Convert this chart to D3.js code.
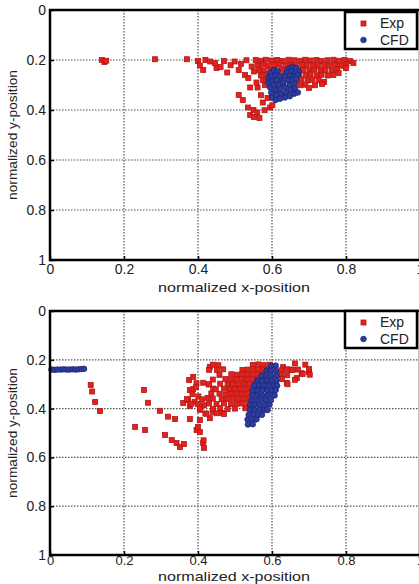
<!DOCTYPE html>
<html>
<head>
<meta charset="utf-8">
<script src="https://cdn.jsdelivr.net/npm/d3@7"></script>
<style>
  body { margin: 0; background: #fff; }
  svg { display: block; font-family: "Liberation Sans", Arial, sans-serif; }
</style>
</head>
<body>
<svg id="chart" width="419" height="584"></svg>
<script>
// axis ticks + labels
const xTicks = [0, 0.2, 0.4, 0.6, 0.8, 1];
const yTicks = [0, 0.2, 0.4, 0.6, 0.8, 1];
const xLabel = "normalized x-position";
const yLabel = "normalized y-position";
const legendLabels = ["Exp", "CFD"];

// top panel, experiment points [x, y]
const topExp = [
  [0.140,0.200],[0.147,0.208],[0.152,0.203],
  [0.284,0.197],[0.370,0.197],
  [0.400,0.204],[0.405,0.222],[0.414,0.240],
  [0.420,0.200],[0.433,0.206],[0.446,0.212],[0.450,0.232],[0.461,0.228],[0.470,0.204],[0.479,0.250],[0.488,0.221],
  [0.499,0.206],[0.510,0.240],[0.516,0.216],[0.527,0.260],[0.531,0.201],[0.536,0.272],[0.541,0.310],[0.545,0.226],[0.551,0.246],
  [0.510,0.340],[0.521,0.360],[0.535,0.390],[0.550,0.400],[0.541,0.420],[0.560,0.410],[0.580,0.401],[0.595,0.390],
  [0.570,0.341],[0.561,0.310],[0.558,0.290],[0.575,0.370],[0.588,0.352],[0.601,0.381],[0.566,0.432],[0.551,0.428],
  [0.556,0.200],[0.571,0.203],[0.584,0.199],[0.600,0.202],[0.614,0.200],[0.629,0.204],[0.645,0.199],[0.660,0.201],
  [0.676,0.203],[0.690,0.199],[0.704,0.202],[0.720,0.200],[0.734,0.204],[0.750,0.201],[0.766,0.199],[0.781,0.203],
  [0.796,0.200],[0.811,0.204],
  [0.561,0.222],[0.575,0.219],[0.590,0.223],[0.606,0.221],[0.619,0.218],[0.636,0.222],[0.650,0.220],[0.664,0.223],
  [0.681,0.219],[0.694,0.222],[0.711,0.220],[0.724,0.223],[0.741,0.219],[0.754,0.222],[0.770,0.220],[0.786,0.223],[0.801,0.218],
  [0.566,0.241],[0.579,0.244],[0.596,0.240],[0.609,0.243],[0.626,0.239],[0.640,0.242],[0.654,0.241],[0.671,0.244],
  [0.684,0.240],[0.701,0.243],[0.714,0.239],[0.731,0.242],[0.744,0.240],[0.761,0.243],[0.776,0.238],
  [0.570,0.262],[0.586,0.259],[0.601,0.263],[0.614,0.260],[0.631,0.262],[0.644,0.258],[0.661,0.263],[0.674,0.260],
  [0.691,0.261],[0.704,0.258],[0.721,0.262],[0.734,0.259],[0.751,0.262],[0.766,0.260],
  [0.576,0.281],[0.591,0.279],[0.621,0.283],[0.649,0.280],[0.666,0.282],[0.679,0.278],[0.696,0.282],[0.709,0.279],
  [0.726,0.281],[0.741,0.288],
  [0.581,0.300],[0.631,0.302],[0.659,0.298],[0.676,0.301],[0.690,0.299],[0.716,0.301],
  [0.619,0.318],[0.651,0.321],[0.700,0.312],[0.735,0.296],
  [0.780,0.252],[0.800,0.232],[0.820,0.212]
];

// top panel, CFD points
const topCfd = [
  [0.595,0.250],[0.605,0.240],[0.615,0.245],[0.590,0.270],[0.600,0.265],[0.610,0.260],[0.620,0.265],
  [0.590,0.290],[0.600,0.285],[0.612,0.280],[0.625,0.285],
  [0.645,0.235],[0.655,0.228],[0.665,0.232],[0.672,0.245],[0.640,0.250],[0.652,0.245],[0.664,0.250],
  [0.635,0.265],[0.648,0.262],[0.660,0.265],[0.670,0.260],
  [0.595,0.310],[0.605,0.300],[0.618,0.300],[0.630,0.290],[0.642,0.280],[0.655,0.280],[0.665,0.275],
  [0.598,0.330],[0.610,0.320],[0.622,0.315],[0.635,0.310],[0.648,0.300],[0.660,0.295],
  [0.600,0.350],[0.612,0.340],[0.625,0.335],[0.638,0.330],[0.650,0.320],[0.662,0.315],
  [0.610,0.360],[0.622,0.355],[0.635,0.350],[0.648,0.345],[0.660,0.335],[0.670,0.330]
];

// bottom panel, experiment points
const bottomExp = [
  [0.110,0.303],[0.114,0.330],[0.122,0.373],[0.135,0.410],
  [0.254,0.324],[0.265,0.376],[0.230,0.475],[0.257,0.488],
  [0.297,0.409],[0.319,0.433],[0.338,0.443],[0.311,0.508],[0.329,0.529],[0.342,0.541],[0.351,0.557],[0.362,0.545],
  [0.378,0.443],[0.360,0.377],[0.373,0.365],[0.378,0.324],[0.376,0.283],[0.387,0.270],
  [0.396,0.488],[0.405,0.496],[0.414,0.541],[0.416,0.561],[0.405,0.447],[0.420,0.420],[0.432,0.439],[0.440,0.414],[0.465,0.418],
  [0.432,0.229],[0.451,0.242],[0.396,0.296],[0.387,0.320],[0.378,0.390],[0.405,0.405],[0.400,0.475],[0.415,0.530],
  [0.395,0.312],[0.401,0.350],[0.411,0.362],[0.426,0.356],[0.436,0.338],[0.441,0.318],[0.429,0.301],[0.414,0.294],
  [0.391,0.372],[0.416,0.386],
  [0.662,0.215],[0.690,0.220],[0.700,0.250],[0.680,0.255],[0.650,0.240],[0.630,0.230],[0.667,0.275],[0.640,0.295],
  [0.440,0.220],[0.455,0.222],[0.548,0.221],[0.563,0.219],[0.578,0.222],[0.594,0.220],
  [0.430,0.241],[0.468,0.239],[0.520,0.242],[0.534,0.240],[0.549,0.238],[0.563,0.242],[0.577,0.240],[0.592,0.241],
  [0.625,0.243],[0.640,0.239],[0.655,0.242],[0.670,0.240],[0.700,0.238],
  [0.458,0.262],[0.490,0.259],[0.505,0.261],[0.520,0.258],[0.534,0.262],[0.548,0.260],[0.563,0.259],[0.577,0.262],
  [0.625,0.260],[0.641,0.263],[0.683,0.258],[0.702,0.261],
  [0.440,0.281],[0.474,0.279],[0.489,0.282],[0.504,0.280],[0.519,0.278],[0.533,0.281],[0.548,0.279],[0.562,0.282],
  [0.577,0.280],[0.627,0.279],[0.662,0.282],
  [0.430,0.300],[0.460,0.298],[0.480,0.301],[0.494,0.299],[0.509,0.302],[0.524,0.300],[0.539,0.298],[0.553,0.301],
  [0.568,0.299],[0.583,0.302],[0.642,0.300],
  [0.448,0.321],[0.470,0.318],[0.485,0.322],[0.499,0.320],[0.514,0.319],[0.529,0.321],[0.544,0.318],[0.559,0.322],[0.574,0.320],
  [0.385,0.341],[0.458,0.339],[0.474,0.342],[0.489,0.340],[0.504,0.338],[0.519,0.341],[0.534,0.339],[0.549,0.342],
  [0.370,0.361],[0.440,0.359],[0.464,0.362],[0.479,0.360],[0.494,0.358],[0.509,0.361],[0.524,0.359],[0.539,0.362],
  [0.382,0.380],[0.400,0.382],[0.430,0.379],[0.450,0.381],[0.470,0.378],[0.489,0.382],[0.505,0.380],[0.520,0.379],[0.536,0.381],
  [0.406,0.400],[0.440,0.401],[0.460,0.398],[0.480,0.402],[0.500,0.400],[0.528,0.399],[0.548,0.401],
  [0.423,0.421],[0.450,0.419],[0.470,0.422]
];

// bottom panel, CFD points (incl. the short row along the left edge)
const bottomCfd = [
  [0.004,0.240],[0.012,0.241],[0.020,0.240],[0.029,0.240],[0.037,0.239],[0.045,0.240],[0.053,0.240],
  [0.061,0.239],[0.069,0.240],[0.077,0.239],[0.085,0.238],[0.092,0.237],
  [0.598,0.225],[0.610,0.224],
  [0.585,0.245],[0.598,0.244],[0.611,0.246],
  [0.572,0.265],[0.585,0.264],[0.598,0.266],[0.612,0.265],
  [0.560,0.285],[0.573,0.286],[0.586,0.284],[0.599,0.285],[0.612,0.286],
  [0.552,0.305],[0.565,0.304],[0.578,0.306],[0.591,0.305],[0.604,0.304],[0.614,0.306],
  [0.548,0.325],[0.561,0.326],[0.574,0.324],[0.587,0.325],[0.600,0.326],[0.610,0.324],
  [0.547,0.345],[0.560,0.344],[0.573,0.346],[0.586,0.345],[0.598,0.344],[0.607,0.346],
  [0.545,0.365],[0.558,0.366],[0.571,0.364],[0.584,0.365],[0.597,0.366],
  [0.541,0.385],[0.554,0.384],[0.567,0.386],[0.580,0.385],[0.593,0.384],
  [0.540,0.405],[0.553,0.406],[0.566,0.404],[0.579,0.405],[0.588,0.406],
  [0.537,0.425],[0.550,0.424],[0.563,0.426],[0.573,0.425],
  [0.534,0.445],[0.547,0.446],[0.558,0.444],
  [0.535,0.465],[0.548,0.464]
];

const W = 419, H = 584;
const svg = d3.select("#chart").attr("viewBox", [0, 0, W, H]);

const panels = [
  { exp: topExp, cfd: topCfd, top: 10, bottom: 260, pad: 4, tickFont: 14, labelY: 292, legendTop: 12 },
  { exp: bottomExp, cfd: bottomCfd, top: 311, bottom: 555, pad: 1, tickFont: 13, labelY: 581, legendTop: 311 }
];

const left = 50, right = 420;
const expFill = "#e3231b", expStroke = "#b3161a";
const cfdFill = "#2d3d9e", cfdStroke = "#1c2478";

panels.forEach(p => {
  const x = d3.scaleLinear().domain([0, 1]).range([left, right]);
  const y = d3.scaleLinear().domain([0, 1]).range([p.top, p.bottom]);
  const g = svg.append("g");

  // dotted grid
  g.append("g").selectAll("line").data(xTicks.slice(1, -1)).join("line")
    .attr("x1", d => x(d)).attr("x2", d => x(d))
    .attr("y1", p.top).attr("y2", p.bottom)
    .attr("stroke", "#555").attr("stroke-width", 1.2).attr("stroke-dasharray", "1.5,1.5");
  g.append("g").selectAll("line").data(yTicks.slice(1, -1)).join("line")
    .attr("y1", d => y(d)).attr("y2", d => y(d))
    .attr("x1", left).attr("x2", right)
    .attr("stroke", "#555").attr("stroke-width", 1.2).attr("stroke-dasharray", "1.5,1.5");

  // Exp squares
  g.append("g").selectAll("rect").data(p.exp).join("rect")
    .attr("x", d => x(d[0]) - 2.5).attr("y", d => y(d[1]) - 2.5)
    .attr("width", 5).attr("height", 5)
    .attr("fill", expFill).attr("stroke", expStroke).attr("stroke-width", 0.8);

  // CFD circles
  g.append("g").selectAll("circle").data(p.cfd).join("circle")
    .attr("cx", d => x(d[0])).attr("cy", d => y(d[1])).attr("r", 2.8)
    .attr("fill", cfdFill).attr("stroke", cfdStroke).attr("stroke-width", 0.8);

  // axes (ticks point inward, like matlab)
  const yAxis = g.append("g")
    .attr("transform", `translate(${left},0)`)
    .call(d3.axisLeft(y).tickValues(yTicks).tickFormat(d => d).tickSizeInner(-4).tickSizeOuter(0).tickPadding(4));
  const xAxis = g.append("g")
    .attr("transform", `translate(0,${p.bottom})`)
    .call(d3.axisBottom(x).tickValues(xTicks).tickFormat(d => d).tickSizeInner(-4).tickSizeOuter(0).tickPadding(p.pad));
  [yAxis, xAxis].forEach(a => {
    a.select(".domain").remove();
    a.selectAll(".tick line").attr("stroke", "#000").attr("stroke-width", 1.5);
    a.selectAll(".tick text").attr("font-size", 14).attr("fill", "#222")
      .attr("font-family", "Liberation Sans, Arial, sans-serif");
  });
  xAxis.selectAll(".tick text").attr("font-size", p.tickFont);

  // frame
  g.append("rect")
    .attr("x", left).attr("y", p.top)
    .attr("width", right - left).attr("height", p.bottom - p.top)
    .attr("fill", "none").attr("stroke", "#000").attr("stroke-width", 2.5);

  // axis labels
  g.append("text")
    .attr("x", 234).attr("y", p.labelY)
    .attr("text-anchor", "middle").attr("font-size", 13).attr("fill", "#222")
    .attr("textLength", 152).attr("lengthAdjust", "spacingAndGlyphs")
    .text(xLabel);
  g.append("text")
    .attr("transform", `translate(17,${(p.top + p.bottom) / 2}) rotate(-90)`)
    .attr("text-anchor", "middle").attr("font-size", 13).attr("fill", "#222")
    .attr("textLength", 130).attr("lengthAdjust", "spacingAndGlyphs")
    .text(yLabel);

  // legend
  const lg = g.append("g").attr("transform", `translate(345,${p.legendTop})`);
  lg.append("rect").attr("width", 72).attr("height", 37)
    .attr("fill", "#fff").attr("stroke", "#000").attr("stroke-width", 2.5);
  lg.append("rect").attr("x", 16).attr("y", 9).attr("width", 5).attr("height", 5)
    .attr("fill", expFill).attr("stroke", expStroke).attr("stroke-width", 0.8);
  lg.append("circle").attr("cx", 18.5).attr("cy", 28).attr("r", 2.8)
    .attr("fill", cfdFill).attr("stroke", cfdStroke).attr("stroke-width", 0.8);
  lg.selectAll("text").data(legendLabels).join("text")
    .attr("x", 35).attr("y", (d, i) => 11.5 + i * 17)
    .attr("dy", "0.35em").attr("font-size", 14).attr("fill", "#222")
    .text(d => d);
});
</script>
</body>
</html>
